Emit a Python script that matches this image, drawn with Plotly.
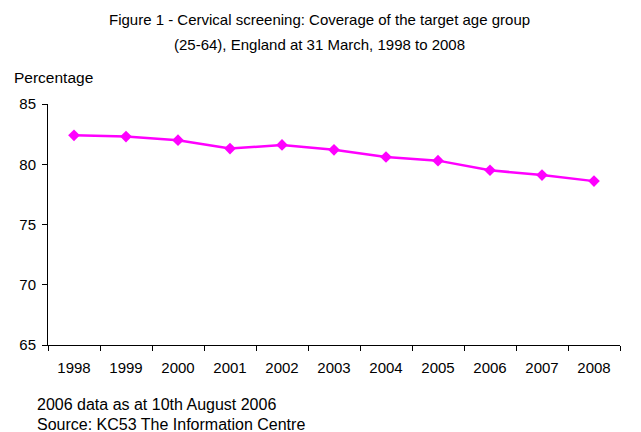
import plotly.graph_objects as go

years = ["1998", "1999", "2000", "2001", "2002", "2003", "2004", "2005", "2006", "2007", "2008"]
coverage = [82.4, 82.3, 82.0, 81.3, 81.6, 81.2, 80.6, 80.3, 79.5, 79.1, 78.6]

title_lines = ["Figure 1 - Cervical screening: Coverage of the target age group",
               "(25-64), England at 31 March, 1998 to 2008"]
notes = ["2006 data as at 10th August 2006", "Source: KC53 The Information Centre"]

font_family = "Liberation Sans, Arial, sans-serif"

fig = go.Figure()
fig.add_trace(go.Scatter(
    x=years,
    y=coverage,
    mode="lines+markers",
    line={"color": "#FF00FF", "width": 2.5},
    marker={"symbol": "diamond", "size": 9, "color": "#FF00FF"},
    showlegend=False))

fig.update_layout(
    width=641,
    height=432,
    margin={"l": 48, "r": 21, "t": 104, "b": 87},
    paper_bgcolor="white",
    plot_bgcolor="white",
    font={"family": font_family, "size": 15, "color": "black"})

fig.update_xaxes(
    type="category",
    range=[-0.5, 10.5],
    showline=True,
    linecolor="black",
    linewidth=1,
    ticks="outside",
    tickson="boundaries",
    ticklen=5,
    tickcolor="black",
    showgrid=False,
    ticklabelstandoff=9,
    tickfont={"size": 15})

fig.update_yaxes(
    range=[65, 85],
    dtick=5,
    showline=True,
    linecolor="black",
    linewidth=1,
    ticks="outside",
    ticklen=5,
    tickcolor="black",
    showgrid=False,
    zeroline=False,
    ticklabelstandoff=3,
    tickfont={"size": 15})

# title, two lines with Excel-like spacing
fig.add_annotation(text=title_lines[0], xref="paper", yref="paper", x=0.4755, y=1.349,
                   xanchor="center", yanchor="middle", showarrow=False, font={"size": 15})
fig.add_annotation(text=title_lines[1], xref="paper", yref="paper", x=0.4755, y=1.245,
                   xanchor="center", yanchor="middle", showarrow=False, font={"size": 15})

fig.add_annotation(text="Percentage", xref="paper", yref="paper", x=-0.063, y=1.108,
                   xanchor="left", yanchor="middle", showarrow=False, font={"size": 15.5})
fig.add_annotation(text=notes[0], xref="paper", yref="paper", x=-0.0227, y=-0.245,
                   xanchor="left", yanchor="middle", showarrow=False, font={"size": 16})
fig.add_annotation(text=notes[1], xref="paper", yref="paper", x=-0.0227, y=-0.328,
                   xanchor="left", yanchor="middle", showarrow=False, font={"size": 16})

fig.write_html("out.html", config={"displayModeBar": False},
               post_script="document.body.style.margin='0';")
